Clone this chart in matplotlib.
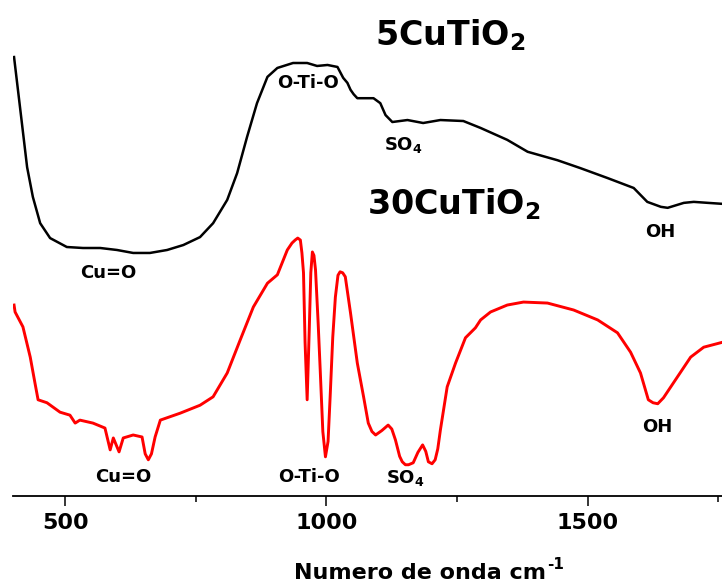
import matplotlib
matplotlib.use("Agg")
import matplotlib.pyplot as plt
from matplotlib.ticker import MultipleLocator

plt.rcParams['font.family'] = ['DejaVu Sans']
plt.rcParams['font.weight'] = 'bold'
plt.rcParams['mathtext.fontset'] = 'dejavusans'
plt.rcParams['mathtext.default'] = 'bf'

# 5CuTiO2 spectrum (arbitrary transmittance units)
wn_5 = [402, 417, 427, 438, 452, 471, 503, 534, 567, 599, 630, 662, 695,
        726, 758, 783, 810, 829, 848, 867, 887, 906, 936, 963, 982, 1002,
        1021, 1026, 1032, 1040, 1046, 1052, 1059, 1090, 1103, 1113, 1126,
        1155, 1185, 1218, 1262, 1295, 1346, 1385, 1442, 1486, 1538, 1588,
        1614, 1640, 1653, 1684, 1703, 1730, 1758]
t_5 = [88.5, 75.2, 66.3, 60.3, 55.0, 52.0, 50.2, 50.0, 50.0, 49.6, 49.0,
       49.0, 49.6, 50.6, 52.2, 55.0, 59.7, 65.1, 72.4, 79.2, 84.5, 86.3,
       87.3, 87.3, 86.7, 86.9, 86.5, 85.5, 84.3, 83.3, 81.9, 81.0, 80.2,
       80.2, 79.2, 76.8, 75.4, 75.8, 75.2, 75.8, 75.6, 74.2, 71.8, 69.4,
       67.7, 66.1, 64.1, 62.1, 59.3, 58.3, 58.1, 59.1, 59.3, 59.1, 58.9]

# 30CuTiO2 spectrum
wn_30 = [402, 404, 419, 433, 442, 448, 465, 490, 509, 519, 528, 553, 576,
         586, 592, 603, 611, 630, 647, 653, 659, 665, 672, 682, 720, 758,
         783, 810, 835, 860, 887, 906, 925, 934, 940, 945, 950, 953, 956,
         959, 963, 967, 970, 973, 976, 979, 984, 988, 993, 998, 1003, 1007,
         1012, 1017, 1022, 1026, 1031, 1036, 1046, 1059, 1071, 1080, 1087,
         1094, 1106, 1118, 1125, 1132, 1140, 1145, 1151, 1157, 1166, 1175,
         1184, 1190, 1195, 1202, 1208, 1213, 1218, 1231, 1247, 1266, 1285,
         1295, 1314, 1346, 1377, 1423, 1473, 1519, 1557, 1582, 1601, 1616,
         1625, 1634, 1645, 1664, 1697, 1722, 1758]
t_30 = [38.5, 37.1, 34.1, 28.0, 22.8, 19.4, 18.8, 16.9, 16.3, 14.7, 15.3,
        14.7, 13.7, 9.3, 11.7, 8.9, 11.7, 12.3, 11.9, 8.5, 7.3, 8.5, 11.9,
        15.3, 16.7, 18.3, 20.0, 24.8, 31.5, 38.1, 42.9, 44.6, 49.6, 51.0,
        51.6, 52.0, 51.6, 49.0, 45.0, 31.0, 19.4, 33.5, 45.0, 49.2, 48.5,
        45.6, 35.0, 25.4, 13.0, 7.9, 11.0, 20.0, 32.0, 40.1, 44.5, 45.2,
        45.0, 44.2, 36.9, 26.8, 20.0, 14.7, 13.0, 12.3, 13.2, 14.3, 13.5,
        11.3, 8.0, 6.9, 6.3, 6.3, 6.7, 8.8, 10.3, 9.0, 6.9, 6.5, 7.3, 9.5,
        13.3, 22.0, 26.8, 31.9, 33.9, 35.5, 37.1, 38.5, 39.1, 38.9, 37.5,
        35.5, 32.9, 29.0, 24.8, 19.4, 18.8, 18.6, 19.8, 22.8, 28.0, 30.0,
        31.0]

# band labels: (text, wavenumber, baseline height)
labels_5 = [("Cu=O", 582, 44.0), ("O-Ti-O", 965, 82.3), ("SO$_4$", 1147, 69.8),
            ("OH", 1639, 52.2)]
labels_30 = [("Cu=O", 611, 2.8), ("O-Ti-O", 967, 2.8), ("SO$_4$", 1151, 2.6),
             ("OH", 1634, 12.9)]

fig = plt.figure(figsize=(7.22, 5.82), dpi=100)
ax = fig.add_axes([13 / 722, 86 / 582, 709 / 722, 496 / 582])

ax.plot(wn_5, t_5, color='black', linewidth=1.8)
ax.plot(wn_30, t_30, color='red', linewidth=2.1)

for txt, x, y in labels_5 + labels_30:
    ax.text(x, y, txt, ha='center', va='baseline', fontsize=13, fontweight='bold')

ax.text(1237, 90.9, "5CuTiO$_2$", ha='center', va='baseline', fontsize=24,
        fontweight='bold')
ax.text(1243, 56.7, "30CuTiO$_2$", ha='center', va='baseline', fontsize=24,
        fontweight='bold')

ax.set_xlim(400, 1757)
ax.set_ylim(0, 100)
ax.xaxis.set_major_locator(MultipleLocator(500))
ax.xaxis.set_minor_locator(MultipleLocator(250))
ax.tick_params(axis='x', which='major', length=7, width=1.1, labelsize=16, pad=5)
ax.tick_params(axis='x', which='minor', length=4, width=1.1)
ax.set_yticks([])
for s in ['top', 'right', 'left']:
    ax.spines[s].set_visible(False)
ax.spines['bottom'].set_linewidth(1.3)
for lbl in ax.get_xticklabels():
    lbl.set_fontweight('bold')

ax.set_xlabel("Numero de onda cm", fontsize=16, fontweight='bold')
ax.xaxis.set_label_coords((420 - 13) / 709, (496 - 563) / 496)
ax.annotate("-1", xy=(1.0, 1.0), xycoords=ax.xaxis.label,
            xytext=(1, 4), textcoords='offset points',
            ha='left', va='top', fontsize=11, fontweight='bold')

fig.savefig("out.png", dpi=100)
